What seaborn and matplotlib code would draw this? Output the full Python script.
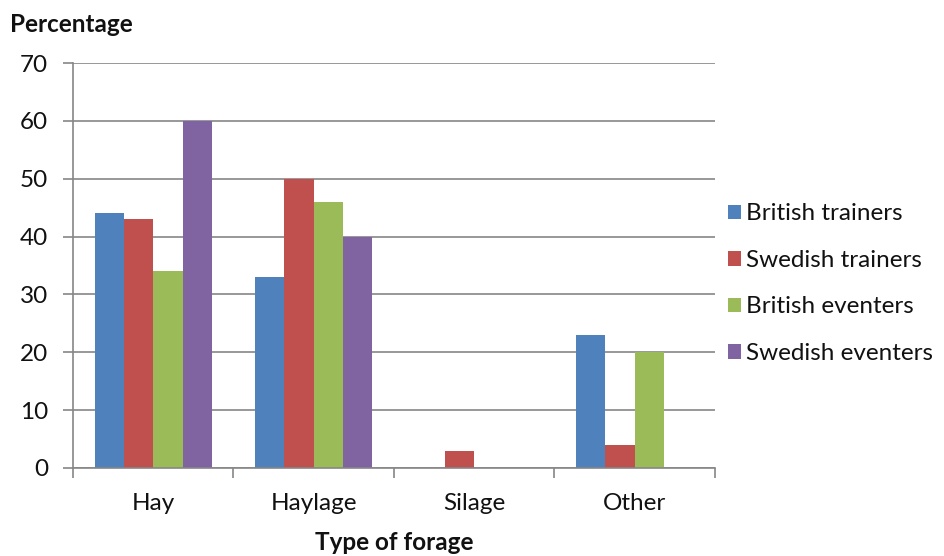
import matplotlib
matplotlib.use("Agg")
import matplotlib.pyplot as plt
import seaborn as sns
import pandas as pd
import numpy as np

# Forage types and the share of each respondent group using them
forage_types = ["Hay", "Haylage", "Silage", "Other"]
groups = ["British trainers", "Swedish trainers", "British eventers", "Swedish eventers"]
british_trainers = [44, 33, 0, 23]
swedish_trainers = [43, 50, 3, 4]
british_eventers = [34, 46, 0, 20]
swedish_eventers = [60, 40, 0, 0]
y_ticks = [0, 10, 20, 30, 40, 50, 60, 70]

colors = ["#4F81BD", "#C0504D", "#9BBB59", "#8064A2"]

series = [british_trainers, swedish_trainers, british_eventers, swedish_eventers]
rows = []
for g, vals in zip(groups, series):
    for f, v in zip(forage_types, vals):
        rows.append({"Forage": f, "Group": g, "Percentage": v})
df = pd.DataFrame(rows)

sns.set_theme(style="white")
plt.rcParams["font.family"] = ["Lato", "DejaVu Sans"]
plt.rcParams["text.color"] = "#111111"

FS = 17.5
TXT = "#111111"

fig = plt.figure(figsize=(9.45, 5.56), dpi=100)
ax = fig.add_axes([73 / 945, 1 - 468 / 556, (715 - 73) / 945, (468 - 63) / 556])

sns.barplot(data=df, x="Forage", y="Percentage", hue="Group",
            order=forage_types, hue_order=groups, palette=colors,
            width=0.73, saturation=1, ax=ax, legend=True, linewidth=0)

grid_color = "#868686"
ax.set_ylim(0, 70)
ax.set_xlim(-0.5, 3.5)
ax.set_yticks(y_ticks)
ax.yaxis.grid(True, color=grid_color, linewidth=1.2)
ax.set_axisbelow(True)
for s in ["top", "right"]:
    ax.spines[s].set_visible(False)
for s in ["left", "bottom"]:
    ax.spines[s].set_color(grid_color)
    ax.spines[s].set_linewidth(1.2)

ax.tick_params(axis="y", which="major", length=7, width=1.2, color=grid_color,
               labelsize=FS, pad=11, left=True, labelcolor=TXT)
ax.set_xticks(range(len(forage_types)))
ax.set_xticklabels(forage_types)
ax.set_xticks(np.arange(-0.5, len(forage_types), 1.0), minor=True)
ax.tick_params(axis="x", which="major", length=0, labelsize=FS, pad=18,
               labelcolor=TXT)
ax.tick_params(axis="x", which="minor", length=7, width=1.2, color=grid_color,
               bottom=True)

ax.set_xlabel("Type of forage", fontsize=FS, fontweight="bold", labelpad=12,
              color=TXT)
ax.set_ylabel("")
fig.text(10 / 945, 1 - 25 / 556, "Percentage", fontsize=FS, fontweight="bold",
         va="center", ha="left", color=TXT)

leg = ax.legend(loc="center left", bbox_to_anchor=(1.02, 0.455), frameon=False,
                fontsize=FS, handlelength=0.55, handleheight=0.55,
                handletextpad=0.2, labelspacing=1.05,
                borderaxespad=0, borderpad=0, labelcolor=TXT)

fig.savefig("out.png", dpi=100, facecolor="white")
